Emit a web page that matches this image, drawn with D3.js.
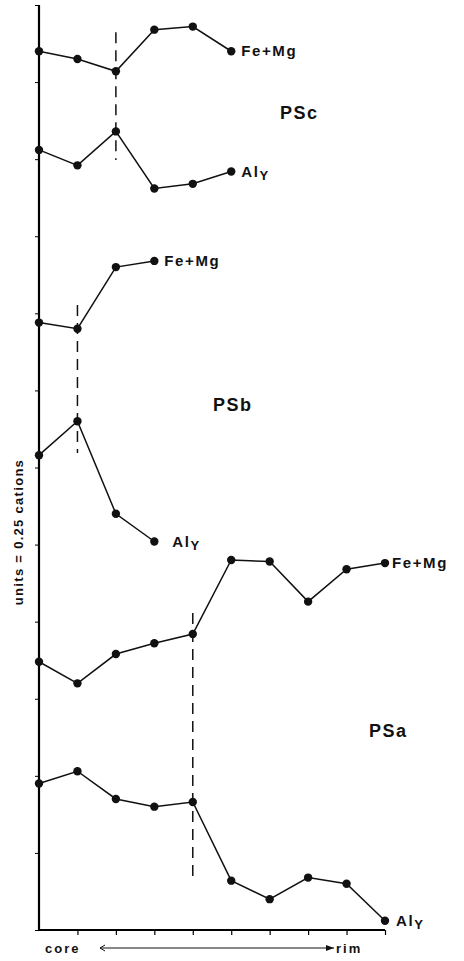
<!DOCTYPE html>
<html>
<head>
<meta charset="utf-8">
<script src="https://cdn.jsdelivr.net/npm/d3@7"></script>
<style>
  body { margin: 0; background: #fff; }
  text { font-family: "Liberation Sans", Arial, sans-serif; font-weight: bold; fill: #111; }
</style>
</head>
<body>
<svg id="chart" width="464" height="961"></svg>
<script>
// positions core -> rim (step index) and values in cations
var steps = d3.range(0, 10);

var pscFeMg = [2.85, 2.825, 2.785, 2.92, 2.93, 2.85];
var pscAl   = [2.53, 2.48, 2.59, 2.405, 2.42, 2.46];
var psbFeMg = [1.97, 1.95, 2.15, 2.17];
var psbAl   = [1.54, 1.65, 1.35, 1.26];
var psaFeMg = [0.87, 0.80, 0.895, 0.93, 0.96, 1.20, 1.195, 1.065, 1.17, 1.19];
var psaAl   = [0.475, 0.515, 0.425, 0.40, 0.415, 0.16, 0.10, 0.17, 0.15, 0.03];

// dashed markers: [step, from, to]
var dashes = [[2, 2.912, 2.497], [1, 2.027, 1.547], [4, 1.028, 0.172]];

var yTicks = d3.range(0, 3.01, 0.25);
var xTicks = d3.range(1, 10);

var svg = d3.select('#chart');

var x = d3.scaleLinear().domain([0, 9]).range([39, 385]);
var y = d3.scaleLinear().domain([0, 3]).range([930, 5]);

//axes, no labels on ticks
svg.append('g')
    .attr('transform', 'translate(39,0)')
    .call(d3.axisLeft(y).tickValues(yTicks).tickSize(4).tickFormat(''))
    .call(function(g) {
        g.select('.domain').attr('stroke-width', 2.2).attr('d', 'M0,' + y(3) + 'V' + y(0));
        g.selectAll('.tick line').attr('stroke-width', 1);
    });

svg.append('g')
    .attr('transform', 'translate(0,930)')
    .call(d3.axisBottom(x).tickValues(xTicks).tickSize(5).tickFormat(''))
    .call(function(g) {
        g.select('.domain').attr('stroke-width', 2.2).attr('d', 'M' + x(0) + ',0H' + x(9));
        g.selectAll('.tick line').attr('stroke-width', 1.2);
    });

var line = d3.line()
    .x(function(d, i) { return x(i); })
    .y(function(d) { return y(d); });

var series = [
    { values: pscFeMg, label: 'Fe+Mg', dx: 10 },
    { values: pscAl,   label: 'Al',    dx: 10 },
    { values: psbFeMg, label: 'Fe+Mg', dx: 10 },
    { values: psbAl,   label: 'Al',    dx: 18 },
    { values: psaFeMg, label: 'Fe+Mg', dx: 7 },
    { values: psaAl,   label: 'Al',    dx: 11 }
];

series.forEach(function(s) {
    svg.append('path')
        .datum(s.values)
        .attr('fill', 'none')
        .attr('stroke', '#111')
        .attr('stroke-width', 1.5)
        .attr('d', line);

    svg.selectAll(null)
        .data(s.values)
        .enter().append('circle')
        .attr('cx', function(d, i) { return x(i); })
        .attr('cy', function(d) { return y(d); })
        .attr('r', 4.2)
        .attr('fill', '#111');

    var last = s.values.length - 1;
    var t = svg.append('text')
        .attr('x', x(last) + s.dx)
        .attr('y', y(s.values[last]) + 5)
        .style('font-size', '15px')
        .style('letter-spacing', '1.6px');
    t.append('tspan').text(s.label);
    if (s.label === 'Al') {
        t.append('tspan').attr('dy', 3).style('font-size', '13px').text('Y');
    }
});

dashes.forEach(function(d) {
    svg.append('line')
        .attr('x1', x(d[0])).attr('x2', x(d[0]))
        .attr('y1', y(d[1])).attr('y2', y(d[2]))
        .attr('stroke', '#111')
        .attr('stroke-width', 1.5)
        .attr('stroke-dasharray', '11,7');
});

//panel labels
[['PSc', 280, 119], ['PSb', 213, 411], ['PSa', 369, 737]].forEach(function(p) {
    svg.append('text')
        .attr('x', p[1]).attr('y', p[2])
        .style('font-size', '18px')
        .style('letter-spacing', '1.5px')
        .text(p[0]);
});

svg.append('text')
    .attr('transform', 'translate(23,532) rotate(-90)')
    .attr('text-anchor', 'middle')
    .style('font-size', '13px')
    .style('letter-spacing', '1.3px')
    .text('units = 0.25 cations');

//core -> rim
svg.append('defs').append('marker')
    .attr('id', 'arr')
    .attr('viewBox', '0 0 8 6')
    .attr('refX', 8).attr('refY', 3)
    .attr('markerWidth', 8).attr('markerHeight', 6)
    .attr('orient', 'auto')
    .append('path').attr('d', 'M0,0L8,3L0,6Z').attr('fill', '#111');

svg.append('line')
    .attr('x1', 100).attr('x2', 334)
    .attr('y1', 948).attr('y2', 948)
    .attr('stroke', '#111').attr('stroke-width', 1)
    .attr('marker-end', 'url(#arr)');
svg.append('path')
    .attr('d', 'M105,945L100,948L105,951')
    .attr('fill', 'none').attr('stroke', '#111').attr('stroke-width', 1);

svg.append('text').attr('x', 45).attr('y', 953)
    .style('font-size', '13px').style('letter-spacing', '2px').text('core');
svg.append('text').attr('x', 336).attr('y', 953)
    .style('font-size', '13px').style('letter-spacing', '2px').text('rim');
</script>
</body>
</html>
